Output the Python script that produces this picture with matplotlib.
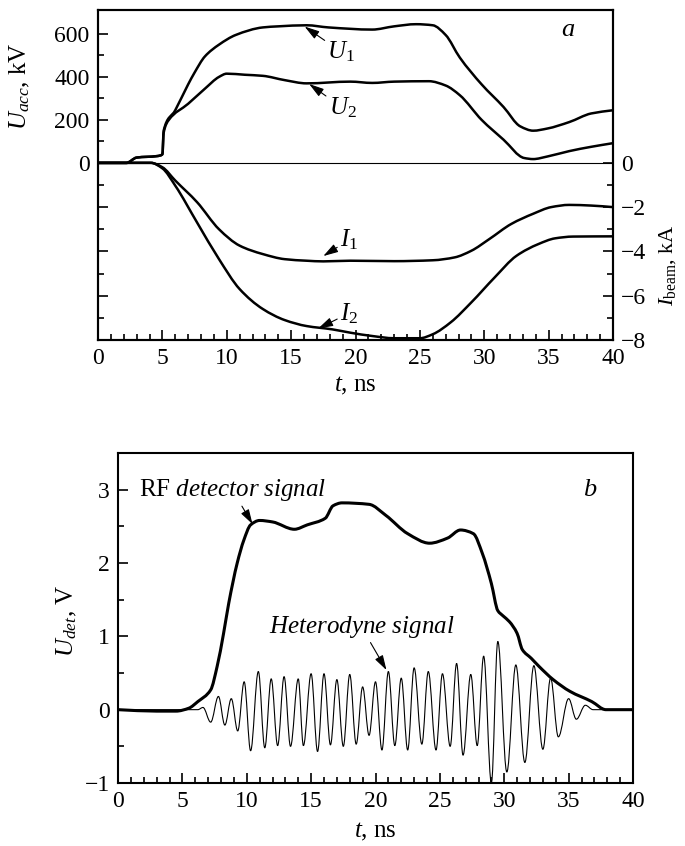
import matplotlib
matplotlib.use('Agg')
import matplotlib.pyplot as plt
from matplotlib.path import Path
from matplotlib.patches import PathPatch
from matplotlib.ticker import MultipleLocator, FixedLocator

plt.rcParams['font.family'] = 'serif'
plt.rcParams['font.serif'] = ['Liberation Serif', 'DejaVu Serif']
plt.rcParams['mathtext.fontset'] = 'custom'
plt.rcParams['mathtext.rm'] = 'Liberation Serif'
plt.rcParams['mathtext.it'] = 'Liberation Serif:italic'
plt.rcParams['font.size'] = 17
plt.rcParams['axes.linewidth'] = 1.5

# ---- panel a: accelerating voltage (kV) ----
t_u1 = [0, 2.2, 3.0, 4.6, 5.0, 5.1, 6.0, 7.0, 7.5, 8.3, 9.4, 10.7, 12.8, 14.0, 16.2, 17.9,
        21.3, 23.0, 24.7, 26.0, 27.0, 28.1, 29.8, 31.5, 32.8, 33.8, 34.9, 36.6, 38.3, 40]
u1 = [0, 0, 25, 32, 40, 150, 245, 365, 420, 495, 550, 595, 630, 635, 640, 630,
      620, 635, 645, 640, 595, 490, 365, 260, 170, 150, 160, 190, 230, 245]

t_u2 = [0, 2.2, 3.0, 4.6, 5.0, 5.1, 5.5, 7.0, 8.3, 9.4, 10.0, 11.4, 12.8, 14.5, 16.2, 19.6,
        21.3, 23.0, 25.7, 27.0, 28.1, 29.8, 31.5, 33.1, 33.8, 34.9, 36.6, 38.3, 40]
u2 = [0, 0, 25, 32, 40, 140, 200, 275, 345, 400, 415, 410, 405, 385, 370, 378,
      372, 378, 380, 360, 315, 200, 108, 23, 18, 30, 55, 75, 92]

# ---- panel a: beam current (kA) ----
t_i1 = [0, 4.1, 5.0, 6.0, 7.7, 9.4, 11.0, 12.8, 14.5, 16.2, 17.5, 19.6, 23.0, 26.0,
        27.7, 29.0, 30.4, 32.1, 33.8, 35.2, 36.6, 38.3, 40]
i1 = [0, 0, -0.2, -0.8, -1.78, -3.0, -3.74, -4.12, -4.35, -4.42, -4.45, -4.42, -4.44, -4.4,
      -4.27, -3.97, -3.44, -2.76, -2.3, -2.0, -1.9, -1.93, -2.0]

t_i2 = [0, 4.1, 5.0, 6.0, 7.7, 9.4, 11.0, 12.8, 14.5, 16.2, 18.2, 19.6, 21.3, 23.0, 25.0,
        26.0, 27.4, 29.0, 30.8, 32.5, 34.2, 35.5, 36.9, 40]
i2 = [0, 0, -0.25, -1.03, -2.7, -4.35, -5.7, -6.6, -7.1, -7.37, -7.52, -7.67, -7.82, -7.92, -7.92,
      -7.74, -7.2, -6.3, -5.18, -4.2, -3.67, -3.41, -3.33, -3.32]

# ---- panel b: RF detector signal (V) ----
t_rf = [0, 3, 4.5, 5.5, 6.2, 7.2, 7.7, 8.2, 8.6, 9.26, 9.77, 10.3, 11.0, 12.0, 13.7, 14.7,
        16.1, 16.7, 17.4, 19.5, 20.8, 22.5, 24.2, 25.6, 26.6, 27.6, 28.3, 29.0, 29.5, 29.9,
        30.4, 31.0, 31.4, 32.1, 32.7, 33.8, 35.1, 36.8, 37.9, 40]
rf = [0, -0.02, -0.02, 0.02, 0.11, 0.27, 0.59, 1.04, 1.45, 2.0, 2.31, 2.52, 2.58, 2.56, 2.46, 2.52,
      2.61, 2.78, 2.82, 2.8, 2.65, 2.4, 2.27, 2.34, 2.45, 2.4, 2.13, 1.72, 1.35, 1.28,
      1.2, 1.04, 0.82, 0.7, 0.59, 0.41, 0.25, 0.11, 0.0, 0.0]

# heterodyne signal: successive extrema (peaks / troughs)
het_t = [0, 6.2, 6.6, 7.2, 7.8, 8.3, 8.8, 9.3, 9.8, 10.3, 10.9, 11.4, 11.9, 12.4, 12.9, 13.4,
         14.0, 14.4, 15.0, 15.5, 16.0, 16.5, 17.0, 17.5, 18.0, 18.5, 19.0, 19.5, 20.0, 20.5,
         21.0, 21.5, 22.0, 22.5, 23.0, 23.6, 24.1, 24.7, 25.2, 25.8, 26.3, 26.8, 27.4, 27.9,
         28.4, 29.0, 29.5, 30.2, 30.9, 31.6, 32.3, 33.0, 33.6, 34.2, 35.0, 35.6, 36.3, 36.9, 40]
het_v = [0, 0, 0.03, -0.17, 0.18, -0.21, 0.15, -0.29, 0.38, -0.56, 0.52, -0.52, 0.42, -0.49, 0.45, -0.5,
         0.42, -0.49, 0.49, -0.57, 0.49, -0.48, 0.41, -0.5, 0.48, -0.47, 0.31, -0.35, 0.38, -0.55,
         0.52, -0.49, 0.43, -0.55, 0.57, -0.47, 0.52, -0.55, 0.49, -0.5, 0.63, -0.62, 0.48, -0.49,
         0.73, -1.0, 0.93, -0.85, 0.61, -0.72, 0.6, -0.54, 0.43, -0.37, 0.15, -0.13, 0.06, 0, 0]


def smooth_curve(ax, x, y, lw):
    # monotone cubic (PCHIP-like) bezier through the read points
    n = len(x)
    h = [x[k + 1] - x[k] for k in range(n - 1)]
    d = [(y[k + 1] - y[k]) / h[k] for k in range(n - 1)]
    m = [d[0]] + [0.0] * (n - 2) + [d[-1]]
    for k in range(1, n - 1):
        if d[k - 1] * d[k] > 0:
            w1 = 2 * h[k] + h[k - 1]
            w2 = h[k] + 2 * h[k - 1]
            m[k] = (w1 + w2) / (w1 / d[k - 1] + w2 / d[k])
    verts = [(x[0], y[0])]
    codes = [Path.MOVETO]
    for k in range(n - 1):
        verts += [(x[k] + h[k] / 3, y[k] + m[k] * h[k] / 3),
                  (x[k + 1] - h[k] / 3, y[k + 1] - m[k + 1] * h[k] / 3),
                  (x[k + 1], y[k + 1])]
        codes += [Path.CURVE4] * 3
    ax.add_patch(PathPatch(Path(verts, codes), facecolor='none', edgecolor='k', lw=lw,
                           capstyle='round', joinstyle='round'))


def style_x(ax):
    ax.set_xlim(0, 40)
    ax.xaxis.set_major_locator(MultipleLocator(5))
    ax.xaxis.set_minor_locator(MultipleLocator(1))
    ax.tick_params(axis='x', which='both', direction='in', top=False, bottom=True, pad=6)
    ax.tick_params(which='major', length=7, width=1.2)
    ax.tick_params(which='minor', length=4, width=1.2)


arrow = dict(arrowstyle='-|>,head_length=0.5,head_width=0.15', color='k', lw=0.8,
             shrinkA=0, shrinkB=0)

fig = plt.figure(figsize=(6.85, 8.46), dpi=100)

# ================= panel a =================
ax = fig.add_axes([98 / 685, 1 - 340 / 846, 515 / 685, 330 / 846])
style_x(ax)
ax.set_ylim(-823, 711)
ax.set_yticks([0, 200, 400, 600])
ax.yaxis.set_minor_locator(FixedLocator([100, 300, 500]))
ax.tick_params(axis='y', which='both', direction='in', left=True, right=True, pad=6)
ax.axhline(0, color='k', lw=0.8)
smooth_curve(ax, t_u1, u1, 1.8)
smooth_curve(ax, t_u2, u2, 1.8)
ax.annotate('$U_1$', xy=(16.05, 634), xytext=(18.9, 516), ha='center', va='center',
            fontsize=18, arrowprops=arrow)
ax.annotate('$U_2$', xy=(16.4, 367), xytext=(19.0, 256), ha='center', va='center',
            fontsize=18, arrowprops=arrow)
ax.text(36.5, 618, '$a$', fontsize=19, ha='center', va='center')
ax.set_ylabel('$U_{acc}$, kV', fontsize=18)
ax.yaxis.set_label_coords(-0.128, 0.77)
ax.set_xlabel('$t$, ns', fontsize=18)
ax.xaxis.set_label_coords(0.5, -0.106)

ax2 = ax.twinx()
ax2.set_ylim(-8, 6.9)
ax2.set_yticks([-8, -6, -4, -2, 0])
ax2.yaxis.set_minor_locator(FixedLocator([-7, -5, -3, -1]))
ax2.tick_params(axis='y', which='both', direction='in', left=True, right=True,
                labelleft=False, labelright=True, pad=6)
ax2.tick_params(which='major', length=7, width=1.2)
ax2.tick_params(which='minor', length=4, width=1.2)
smooth_curve(ax2, t_i1, i1, 1.8)
smooth_curve(ax2, t_i2, i2, 1.8)
ax2.annotate('$I_1$', xy=(17.5, -4.21), xytext=(19.5, -3.48), ha='center', va='center',
             fontsize=18, arrowprops=arrow)
ax2.annotate('$I_2$', xy=(17.1, -7.48), xytext=(19.5, -6.79), ha='center', va='center',
             fontsize=18, arrowprops=arrow)
ax2.set_ylabel(r'$I_{\rm beam}$, kA', fontsize=16)
ax2.yaxis.set_label_coords(1.086, 0.227)

# ================= panel b =================
bx = fig.add_axes([118 / 685, 1 - 783 / 846, 515 / 685, 330 / 846])
style_x(bx)
bx.set_ylim(-1, 3.5)
bx.yaxis.set_major_locator(MultipleLocator(1))
bx.yaxis.set_minor_locator(MultipleLocator(0.5))
bx.tick_params(axis='y', which='both', direction='in', left=True, right=False, pad=6)

# heterodyne: half-wave bezier arcs between successive extrema
verts = [(het_t[0], het_v[0])]
codes = [Path.MOVETO]
for k in range(1, len(het_t)):
    t0, v0 = het_t[k - 1], het_v[k - 1]
    t1, v1 = het_t[k], het_v[k]
    d = t1 - t0
    verts += [(t0 + 0.36 * d, v0), (t1 - 0.36 * d, v1), (t1, v1)]
    codes += [Path.CURVE4] * 3
bx.add_patch(PathPatch(Path(verts, codes), facecolor='none', edgecolor='k', lw=0.8))
smooth_curve(bx, t_rf, rf, 2.2)

bx.annotate('RF $detector\\ signal$', xy=(10.45, 2.53), xytext=(8.9, 2.99),
            ha='center', va='center', fontsize=18, arrowprops=arrow)
bx.annotate('$Heterodyne\\ signal$', xy=(20.85, 0.54), xytext=(18.9, 1.13),
            ha='center', va='center', fontsize=18, arrowprops=arrow)
bx.text(36.7, 2.99, '$b$', fontsize=19, ha='center', va='center')
bx.set_ylabel('$U_{det}$, V', fontsize=18)
bx.yaxis.set_label_coords(-0.075, 0.49)
bx.set_xlabel('$t$, ns', fontsize=18)
bx.xaxis.set_label_coords(0.5, -0.115)

fig.savefig('out.png', dpi=100)
